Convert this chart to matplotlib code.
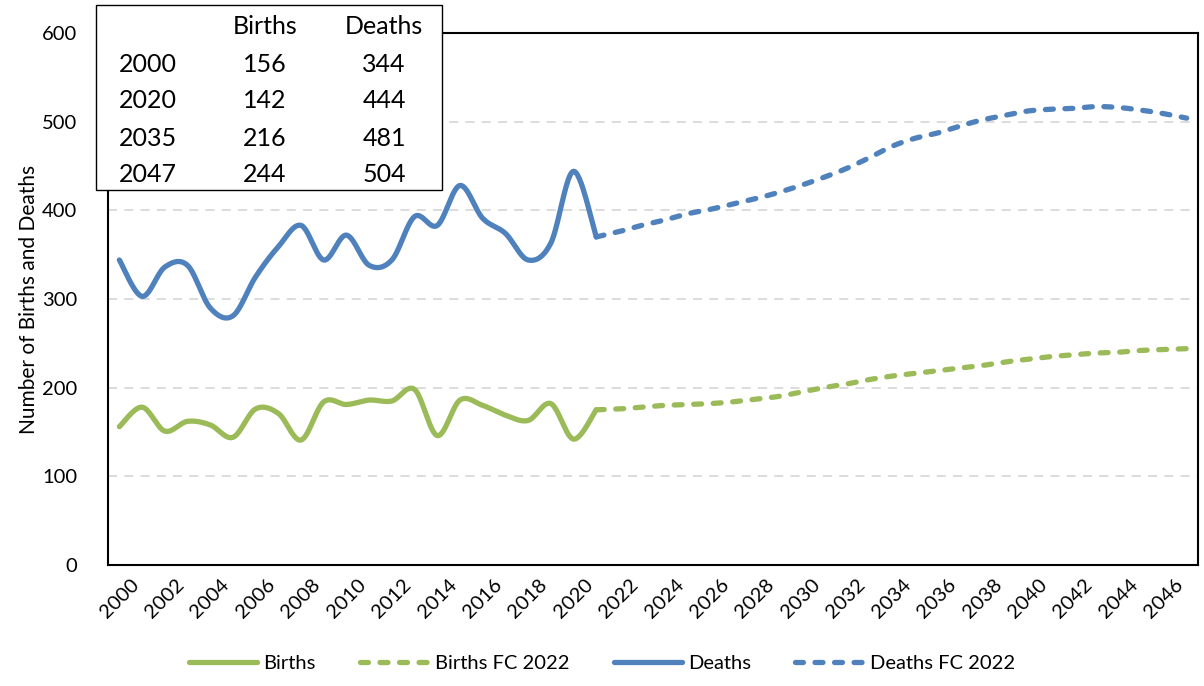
import numpy as np
import matplotlib
matplotlib.use("Agg")
import matplotlib.pyplot as plt
from matplotlib.patches import Rectangle

plt.rcParams['font.family'] = ['Lato', 'DejaVu Sans']

# ---- data ----
years_actual = list(range(2000, 2022))
births_actual = [156, 178, 151, 162, 158, 144, 176, 171, 141, 184, 181, 186, 185, 198,
                 146, 186, 180, 169, 163, 182, 142, 175]
deaths_actual = [344, 303, 336, 338, 290, 281, 325, 359, 383, 344, 372, 338, 344, 393,
                 383, 428, 391, 374, 344, 363, 444, 370]

years_fc = list(range(2021, 2048))
births_fc = [175, 176, 178, 180, 181, 182, 184, 187, 190, 195, 200, 204, 209, 213, 216,
             219, 222, 225, 229, 232, 235, 237, 239, 240, 242, 243, 244]
deaths_fc = [370, 376, 383, 389, 396, 401, 407, 413, 420, 428, 437, 447, 459, 472, 481,
             487, 495, 502, 507, 512, 514, 515, 517, 516, 513, 509, 504]

table_cols = ["Births", "Deaths"]
table_years = ["2000", "2020", "2035", "2047"]
table_births = [156, 142, 216, 244]
table_deaths = [344, 444, 481, 504]

xtick_years = list(range(2000, 2047, 2))
yticks = [0, 100, 200, 300, 400, 500, 600]

GREEN = "#9BBB59"
BLUE = "#4F81BD"


def smooth(xs, ys, n=30):
    """Excel-style smoothed line (Catmull-Rom via cubic Bezier)."""
    P = np.column_stack([xs, ys]).astype(float)
    m = len(P)
    out = []
    for i in range(m - 1):
        p0 = P[i - 1] if i > 0 else P[i]
        p1 = P[i]
        p2 = P[i + 1]
        p3 = P[i + 2] if i + 2 < m else P[i + 1]
        c1 = p1 + (p2 - p0) / 6.0
        c2 = p2 - (p3 - p1) / 6.0
        t = np.linspace(0, 1, n, endpoint=(i == m - 2))[:, None]
        seg = ((1 - t) ** 3) * p1 + 3 * ((1 - t) ** 2) * t * c1 + 3 * (1 - t) * t ** 2 * c2 + t ** 3 * p2
        out.append(seg)
    out = np.vstack(out)
    return out[:, 0], out[:, 1]


fig = plt.figure(figsize=(12.04, 6.86), dpi=100)
ax = fig.add_axes([108 / 1204, 1 - 565 / 686, (1198 - 108) / 1204, (565 - 33) / 686])

lw = 3.8
dash = (1.5, 2.2)

x, y = smooth(years_actual, births_actual)
ax.plot(x, y, color=GREEN, lw=lw, solid_capstyle='round', label="Births")
x, y = smooth(years_fc, births_fc)
ax.plot(x, y, color=GREEN, lw=lw, ls=(0, dash), dash_capstyle='round', label="Births FC 2022")
x, y = smooth(years_actual, deaths_actual)
ax.plot(x, y, color=BLUE, lw=lw, solid_capstyle='round', label="Deaths")
x, y = smooth(years_fc, deaths_fc)
ax.plot(x, y, color=BLUE, lw=lw, ls=(0, dash), dash_capstyle='round', label="Deaths FC 2022")

ax.set_xlim(1999.5, 2047.5)
ax.set_ylim(0, 600)
ax.set_yticks(yticks)
ax.set_xticks(xtick_years)
ax.set_xticklabels([str(v) for v in xtick_years], rotation=45, ha='center', va='top')
ax.tick_params(axis='both', length=0, labelsize=14.5)
ax.tick_params(axis='y', pad=22)
ax.tick_params(axis='x', pad=8)
for s in ax.spines.values():
    s.set_linewidth(1.5)
    s.set_color('black')
for v in [100, 200, 300, 400, 500]:
    ax.axhline(v, color='#D9D9D9', lw=1.3, ls=(0, (5, 4)), zorder=0)
ax.set_ylabel("Number of Births and Deaths", fontsize=15, labelpad=2)

# legend
handles, labels = ax.get_legend_handles_labels()
fig.legend(handles, labels, loc='center', bbox_to_anchor=(0.5, 1 - 663 / 686), ncol=4,
           frameon=False, fontsize=14.5, handlelength=3.4, columnspacing=2.2, handletextpad=0.3)

# table box
W, H = 1204, 686
box = Rectangle((96 / W, 1 - 190 / H), (442 - 96) / W, (190 - 5) / H, transform=fig.transFigure,
                facecolor='white', edgecolor='black', lw=1.0, zorder=10)
fig.add_artist(box)
fs = 18
fig.text(265 / W, 1 - 27 / H, table_cols[0], ha='center', va='center', fontsize=fs, zorder=11)
fig.text(384 / W, 1 - 27 / H, table_cols[1], ha='center', va='center', fontsize=fs, zorder=11)
row_y = [64, 101, 138, 175]
for ry, yr, b, d in zip(row_y, table_years, table_births, table_deaths):
    fig.text(119 / W, 1 - ry / H, yr, ha='left', va='center', fontsize=fs, zorder=11)
    fig.text(265 / W, 1 - ry / H, str(b), ha='center', va='center', fontsize=fs, zorder=11)
    fig.text(384 / W, 1 - ry / H, str(d), ha='center', va='center', fontsize=fs, zorder=11)

fig.savefig("out.png", dpi=100)
